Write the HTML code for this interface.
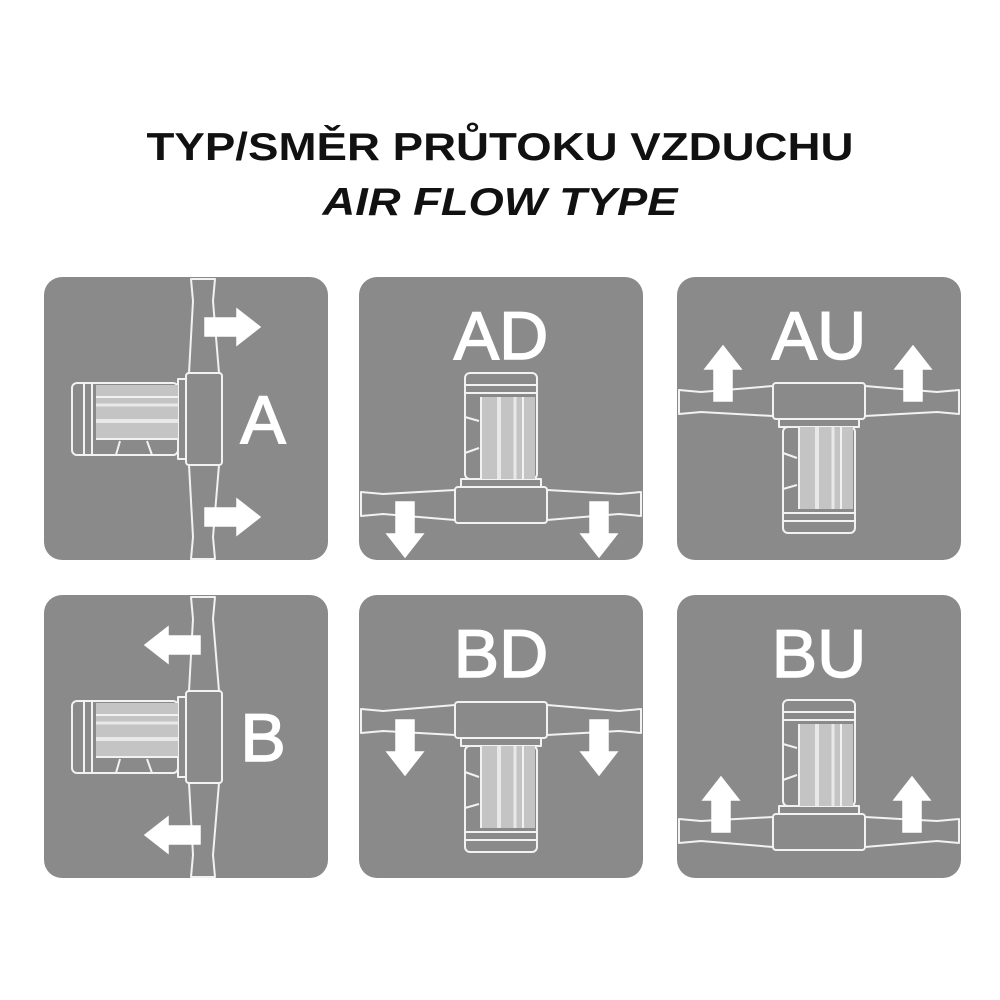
<!DOCTYPE html>
<html><head><meta charset="utf-8"><style>
html,body{margin:0;padding:0;background:#fff;width:1000px;height:1000px;overflow:hidden}
</style></head><body>
<svg width="1000" height="1000" viewBox="0 0 1000 1000" xmlns="http://www.w3.org/2000/svg">
<defs>
<g id="fit" stroke="#f2f2f2" stroke-width="2" fill="#8a8a8a" stroke-linejoin="round">
  <polygon points="-46,-15 -118,-11 -140,-13 -140,11 -118,9 -46,15"/>
  <polygon points="46,-15 118,-11 140,-13 140,11 118,9 46,15"/>
  <rect x="-46" y="-18" width="92" height="36" rx="3"/>
  <rect x="-40" y="-26" width="80" height="8"/>
  <rect x="-36" y="-132" width="72" height="106" rx="5"/>
  <line x1="-36" y1="-120" x2="36" y2="-120"/>
  <line x1="-36" y1="-112" x2="36" y2="-112"/>
  <rect x="-20" y="-108" width="54" height="82" fill="#c4c4c4" stroke="none"/>
  <line x1="-20" y1="-108" x2="-20" y2="-26"/>
  <line x1="-2" y1="-108" x2="-2" y2="-26" stroke="#e8e8e8" stroke-width="4"/>
  <line x1="14" y1="-108" x2="14" y2="-26" stroke="#e8e8e8" stroke-width="3"/>
  <line x1="22" y1="-108" x2="22" y2="-26"/>
  <line x1="-36" y1="-88" x2="-22" y2="-84"/>
  <line x1="-36" y1="-52" x2="-22" y2="-57"/>
</g>
<polygon id="arr" points="-9,0 9,0 9,-32 18,-32 0,-55 -18,-32 -9,-32" fill="#fff"/>
</defs>
<text x="500" y="160" text-anchor="middle" font-family="Liberation Sans, sans-serif" font-weight="bold" font-size="39" fill="#111" textLength="707" lengthAdjust="spacingAndGlyphs">TYP/SMĚR PRŮTOKU VZDUCHU</text>
<text x="500" y="215" text-anchor="middle" font-family="Liberation Sans, sans-serif" font-weight="bold" font-style="italic" font-size="39" fill="#111" textLength="355" lengthAdjust="spacingAndGlyphs">AIR FLOW TYPE</text>
<g font-family="Liberation Sans, sans-serif" font-size="68" fill="#fff" stroke="#fff" stroke-width="1.5" text-anchor="middle">
<!-- A -->
<g transform="translate(44,277)">
<rect width="284" height="283" rx="18" fill="#8a8a8a" stroke="none"/>
<g transform="translate(160,142) rotate(-90)"><use href="#fit"/></g>
<g transform="translate(161,50) rotate(90)"><use href="#arr"/></g>
<g transform="translate(161,240) rotate(90)"><use href="#arr"/></g>
<text x="219" y="166">A</text>
</g>
<!-- AD -->
<g transform="translate(359,277)">
<rect width="284" height="283" rx="18" fill="#8a8a8a" stroke="none"/>
<g transform="translate(142,228)"><use href="#fit"/></g>
<g transform="translate(46,225) rotate(180)"><use href="#arr"/></g>
<g transform="translate(240,225) rotate(180)"><use href="#arr"/></g>
<text x="142" y="82">AD</text>
</g>
<!-- AU -->
<g transform="translate(677,277)">
<rect width="284" height="283" rx="18" fill="#8a8a8a" stroke="none"/>
<g transform="translate(142,124) scale(1,-1)"><use href="#fit"/></g>
<g transform="translate(46,124)"><use href="#arr"/></g>
<g transform="translate(236,124)"><use href="#arr"/></g>
<text x="142" y="82">AU</text>
</g>
<!-- B -->
<g transform="translate(44,595)">
<rect width="284" height="283" rx="18" fill="#8a8a8a" stroke="none"/>
<g transform="translate(160,142) rotate(-90)"><use href="#fit"/></g>
<g transform="translate(156,50) rotate(-90)"><use href="#arr"/></g>
<g transform="translate(156,240) rotate(-90)"><use href="#arr"/></g>
<text x="219" y="166">B</text>
</g>
<!-- BD -->
<g transform="translate(359,595)">
<rect width="284" height="283" rx="18" fill="#8a8a8a" stroke="none"/>
<g transform="translate(142,125) scale(1,-1)"><use href="#fit"/></g>
<g transform="translate(46,125) rotate(180)"><use href="#arr"/></g>
<g transform="translate(240,125) rotate(180)"><use href="#arr"/></g>
<text x="142" y="82">BD</text>
</g>
<!-- BU -->
<g transform="translate(677,595)">
<rect width="284" height="283" rx="18" fill="#8a8a8a" stroke="none"/>
<g transform="translate(142,237)"><use href="#fit"/></g>
<g transform="translate(44,237)"><use href="#arr"/></g>
<g transform="translate(235,237)"><use href="#arr"/></g>
<text x="142" y="82">BU</text>
</g>
</g>
</svg>
</body></html>
